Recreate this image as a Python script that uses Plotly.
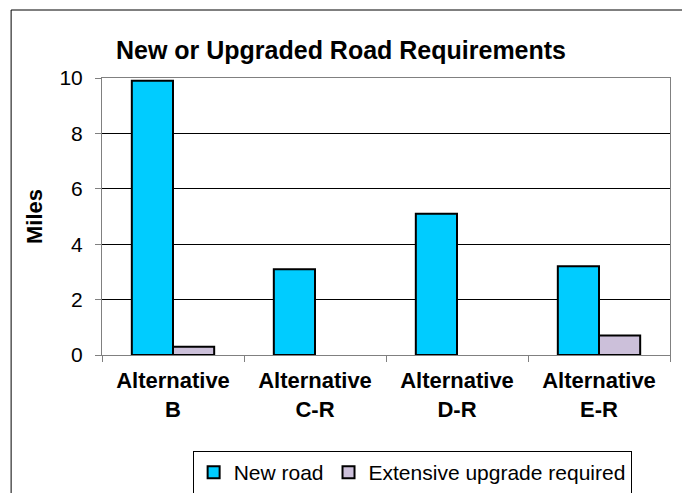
import plotly.graph_objects as go

categories = ["Alternative<br>B", "Alternative<br>C-R", "Alternative<br>D-R", "Alternative<br>E-R"]
new_road = [9.9, 3.1, 5.1, 3.2]
upgrade = [0.3, None, None, 0.7]
y_ticks = [0, 2, 4, 6, 8, 10]

fig = go.Figure()
fig.add_trace(go.Bar(x=categories, y=new_road, name="New road",
                     marker=dict(color="#00CCFF", line=dict(color="black", width=2))))
fig.add_trace(go.Bar(x=categories, y=upgrade, name="Extensive upgrade required",
                     marker=dict(color="#CCC0DA", line=dict(color="black", width=2))))

font = "Liberation Sans, Arial, sans-serif"
fig.update_layout(
    width=682, height=493,
    margin=dict(l=102, r=12, t=78, b=138, autoexpand=False),
    paper_bgcolor="white", plot_bgcolor="white",
    font=dict(family=font, color="black", size=20),
    title=dict(text="<b>New or Upgraded Road Requirements</b>", x=0.5, xanchor="center",
               y=1 - 50 / 493, yanchor="middle", font=dict(size=25)),
    barmode="group", bargap=0.42, bargroupgap=0,
    showlegend=True,
    legend=dict(orientation="h", x=0.546, xanchor="center", xref="paper",
                y=1 - 451 / 493, yanchor="top", yref="container",
                bordercolor="black", borderwidth=1, font=dict(size=21),
                itemwidth=30, tracegroupgap=0),
    shapes=[dict(type="rect", xref="paper", yref="paper", x0=-0.160, y0=-2, x1=1.5,
                 y1=(355 - 10) / 277, line=dict(color="black", width=1), layer="below")],
)
fig.update_xaxes(type="category", tickson="boundaries", ticks="outside", ticklen=6,
                 tickcolor="#808080", showline=True, linecolor="#808080", linewidth=1,
                 mirror=True, showgrid=False, tickfont=dict(size=22, family=font),
                 tickprefix="<b>", ticksuffix="</b>", automargin=False,
                 ticklabelstandoff=6)
fig.update_yaxes(range=[0, 10], tickvals=y_ticks, ticks="outside", ticklen=6,
                 tickcolor="#808080", showline=True, linecolor="#808080", linewidth=1,
                 mirror=True, showgrid=True, gridcolor="black", gridwidth=1,
                 zeroline=False, tickfont=dict(size=21), ticklabelstandoff=8,
                 automargin=False,
                 title=dict(text="<b>Miles</b>", font=dict(size=22), standoff=10))

fig.write_html("out.html", config={"displayModeBar": False},
               post_script="document.body.style.margin='0';document.body.style.overflow='hidden';")
